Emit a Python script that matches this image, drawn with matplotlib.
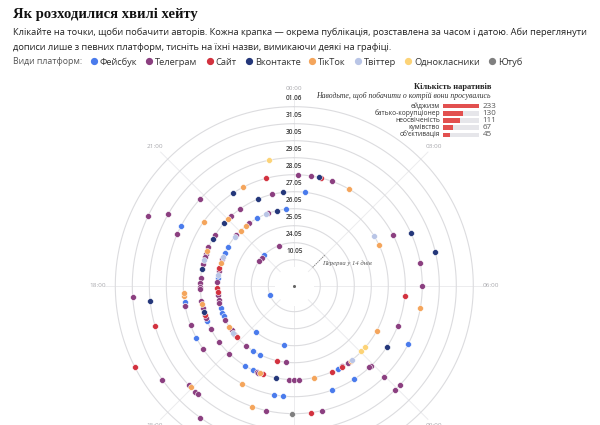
import numpy as np
import matplotlib
matplotlib.use('Agg')
import matplotlib.pyplot as plt
from matplotlib.lines import Line2D

# ~~~~~~~~~~~~~~~~~~~~~~~~~~~~~~~~~~~~~~~~ Data ~~~~~~~~~~~~~~~~~~~~~~~~~~~~~~~~~~~~~~~~
# ring labels (dates), inner to outer
dates = ['10.05', '24.05', '25.05', '26.05', '27.05', '28.05', '29.05', '30.05', '31.05', '01.06']
hour_labels = ['00:00', '03:00', '06:00', '09:00', '12:00', '15:00', '18:00', '21:00']

platforms = ['Фейсбук', 'Телеграм', 'Сайт', 'Вконтакте', 'ТікТок', 'Твіттер', 'Однокласники', 'Ютуб']
platform_colors = ['#4a7bec', '#8b3f80', '#d2323f', '#24377a', '#f4a55c', '#b9c5e6', '#fcd377', '#7f7f7f']

# posts per platform: (date, hour of day)
facebook = [('10.05', 16.6), ('24.05', 21.07), ('25.05', 14.64), ('25.05', 12.68),
            ('26.05', 23.6), ('26.05', 22.07), ('26.05', 20.03), ('26.05', 19.67), ('26.05', 18.36),
            ('26.05', 16.87), ('26.05', 16.6), ('26.05', 16.43), ('26.05', 14.14), ('26.05', 13.75),
            ('27.05', 0.43), ('27.05', 16.55), ('27.05', 14.09), ('27.05', 13.73), ('27.05', 10.15),
            ('28.05', 17.43), ('28.05', 17.31), ('28.05', 16.13), ('28.05', 12.69), ('28.05', 12.39),
            ('28.05', 9.82), ('28.05', 10.67), ('29.05', 19.87), ('29.05', 7.8)]
telegram = [('24.05', 22.6), ('24.05', 20.73), ('24.05', 20.3),
            ('26.05', 22.67), ('26.05', 21.6), ('26.05', 20.75), ('26.05', 19.33), ('26.05', 18.75),
            ('26.05', 18.2), ('26.05', 17.54), ('26.05', 17.29), ('26.05', 17.13), ('26.05', 16.26),
            ('26.05', 15.64), ('26.05', 15.4), ('26.05', 14.58), ('26.05', 12.43),
            ('27.05', 23.07), ('27.05', 21.67), ('27.05', 21.17), ('27.05', 20.17), ('27.05', 19.6),
            ('27.05', 19.31), ('27.05', 19.17), ('27.05', 18.91), ('27.05', 18.3), ('27.05', 18.1),
            ('27.05', 17.93), ('27.05', 17.85), ('27.05', 17.39), ('27.05', 17.1), ('27.05', 16.65),
            ('27.05', 16.17), ('27.05', 15.53), ('27.05', 14.91), ('27.05', 13.58), ('27.05', 13.5),
            ('27.05', 12.2), ('27.05', 12.0), ('27.05', 11.82), ('27.05', 9.95), ('27.05', 9.7),
            ('28.05', 0.14), ('28.05', 0.56), ('28.05', 1.31), ('28.05', 4.2), ('28.05', 7.43),
            ('28.05', 9.1), ('28.05', 9.16), ('28.05', 17.28), ('28.05', 16.6), ('28.05', 15.67),
            ('29.05', 20.85), ('29.05', 19.6), ('29.05', 5.32), ('29.05', 6.02), ('29.05', 9.02),
            ('29.05', 11.18), ('29.05', 12.84),
            ('30.05', 19.97), ('30.05', 8.87), ('30.05', 9.05), ('30.05', 15.12), ('30.05', 14.87),
            ('30.05', 14.78),
            ('31.05', 19.69), ('31.05', 17.74), ('31.05', 15.63), ('31.05', 14.36)]
site = [('26.05', 18.91), ('26.05', 17.87), ('26.05', 17.7), ('26.05', 15.2), ('26.05', 12.85),
        ('27.05', 16.77), ('27.05', 13.3), ('27.05', 10.43), ('27.05', 9.97),
        ('28.05', 0.93), ('28.05', 23.0), ('28.05', 6.35), ('29.05', 11.5), ('30.05', 16.93),
        ('01.06', 16.21)]
vkontakte = [('26.05', 23.13), ('27.05', 23.54), ('27.05', 22.49), ('27.05', 20.8), ('27.05', 19.99),
             ('27.05', 18.67), ('27.05', 16.91), ('27.05', 12.73), ('28.05', 0.85), ('28.05', 21.75),
             ('28.05', 8.23), ('29.05', 4.39), ('30.05', 5.11), ('30.05', 17.6)]
tiktok = [('26.05', 21.41), ('26.05', 21.05), ('26.05', 19.12), ('26.05', 15.83),
          ('27.05', 21.01), ('27.05', 19.44), ('27.05', 17.24), ('27.05', 13.43), ('27.05', 11.19),
          ('27.05', 9.55), ('27.05', 7.91), ('27.05', 4.29),
          ('28.05', 1.97), ('28.05', 22.17), ('28.05', 20.35), ('28.05', 17.65), ('28.05', 17.76),
          ('28.05', 13.87), ('29.05', 6.68), ('29.05', 13.28), ('30.05', 15.04)]
twitter = [('26.05', 22.55), ('26.05', 20.64), ('26.05', 19.47), ('26.05', 18.53), ('26.05', 15.5),
           ('27.05', 19.05), ('27.05', 9.45), ('27.05', 3.85)]
odnoklassniki = [('27.05', 8.96), ('27.05', 8.73), ('29.05', 23.24)]
youtube = [('29.05', 12.07)]
posts = [facebook, telegram, site, vkontakte, tiktok, twitter, odnoklassniki, youtube]

# narratives inset
narratives = ['ейджизм', 'батько-корупціонер', 'неосвіченість', 'кумівство', 'об\u2019єктивація']
narrative_counts = [233, 130, 111, 67, 45]

# ~~~~~~~~~~~~~~~~~~~~~~~~~~~~~~~~~~~~~~~ Figure ~~~~~~~~~~~~~~~~~~~~~~~~~~~~~~~~~~~~~~~
W, H = 600, 425
fig = plt.figure(figsize=(6, 4.25), dpi=100)
fig.patch.set_facecolor('white')
SANS = ['Open Sans', 'DejaVu Sans']
SERIF = ['Liberation Serif', 'DejaVu Serif']
TXT = 6.65


def fx(px):
    return px / W


def fy(py):
    return 1 - py / H


# header
fig.text(fx(13), fy(14), 'Як розходилися хвилі хейту', family=SERIF, fontweight='bold',
         fontsize=10.5, color='#111111', va='center', ha='left')
fig.text(fx(13), fy(32), 'Клікайте на точки, щоби побачити авторів. Кожна крапка \u2014 окрема публікація, '
         'розставлена за часом і датою. Аби переглянути', family=SANS, fontsize=TXT, color='#222222',
         va='center', ha='left')
fig.text(fx(13), fy(47), 'дописи лише з певних платформ, тисніть на їхні назви, вимикаючи деякі на графіці.',
         family=SANS, fontsize=TXT, color='#222222', va='center', ha='left')

# legend
fig.text(fx(13), fy(62), 'Види платформ:', family=SANS, fontsize=TXT - 0.3, color='#555555',
         va='center', ha='left')
handles = [Line2D([], [], marker='o', ls='', color=c, markersize=4.2) for c in platform_colors]
fig.legend(handles, platforms, loc='center left', bbox_to_anchor=(fx(91), fy(62)), ncol=8, frameon=False,
           prop={'family': SANS, 'size': TXT}, handlelength=0.6, handletextpad=0.35, columnspacing=1.0,
           borderpad=0, borderaxespad=0, labelcolor='#333333')

# ~~~~~~~~~~~~~~~~~~~~~~~~~~~~~~~~~~~ Radial chart ~~~~~~~~~~~~~~~~~~~~~~~~~~~~~~~~~~~~~~
cx, cy, R = 294.3, 285.7, 200
ax = fig.add_axes([fx(cx - R), fy(cy + R), 2 * R / W, 2 * R / H], projection='polar')
ax.set_theta_zero_location('N')
ax.set_theta_direction(-1)
ax.set_ylim(0, R)
ax.set_axis_off()

ring_r = {d: 26 + 17 * i for i, d in enumerate(dates)}
circle = np.linspace(0, 2 * np.pi, 400)

# rings + date labels
for d in dates:
    ax.plot(circle, np.full_like(circle, ring_r[d]), color='#dcdcdf', lw=0.8, zorder=1)
    ax.text(0, ring_r[d] + 8.5, d, ha='center', va='center', fontsize=4.7, color='#3a3a3a',
            family=SANS, fontweight='semibold', zorder=2)

# hour spokes + labels (12:00 falls below the visible area)
for k, lab in enumerate(hour_labels):
    th = np.deg2rad(k * 45)
    ax.plot([th, th], [20, 189], color='#ececee', lw=0.7, zorder=0)
    if lab != '12:00':
        ax.text(th, 197, lab, ha='center', va='center', fontsize=4.6, color='#a8a8ad', family=SANS)

# gap marker between 10.05 and 24.05
ax.plot([np.deg2rad(45)] * 2, [ring_r['10.05'], ring_r['24.05']], color='#777777', lw=0.6,
        ls=(0, (1.5, 1.2)), zorder=2)
ax.text(np.deg2rad(51), 36, 'Перерва у 14 днів', ha='left', va='center', fontsize=4.8,
        family=SERIF, style='italic', color='#555555')

# posts
for plist, col in zip(posts, platform_colors):
    th = np.deg2rad([h * 15 for _, h in plist])
    rr = [ring_r[d] for d, _ in plist]
    ax.scatter(th, rr, s=18, color=col, edgecolors='white', linewidths=0.4, zorder=3)
ax.scatter([0], [0], s=1.5, color='#666666', zorder=3)

# ~~~~~~~~~~~~~~~~~~~~~~~~~~~~~~~~~~ Narratives inset ~~~~~~~~~~~~~~~~~~~~~~~~~~~~~~~~~~~
fig.text(fx(491), fy(87), 'Кількість наративів', family=SERIF, fontweight='bold', fontsize=6,
         color='#222222', ha='right', va='center')
fig.text(fx(491), fy(95.5), 'Наводьте, щоб побачити о котрій вони просувались', family=SERIF,
         style='italic', fontsize=5.6, color='#333333', ha='right', va='center')

bx = fig.add_axes([fx(442.7), fy(138.5), 36.3 / W, 36 / H])
ypos = np.arange(len(narratives))
bx.barh(ypos, [max(narrative_counts)] * len(narratives), height=0.62, color='#e6e6ea')
bx.barh(ypos, narrative_counts, height=0.62, color='#e2504f')
bx.set_xlim(0, max(narrative_counts))
bx.set_ylim(len(narratives) - 0.5, -0.5)
bx.set_axis_off()
for i, (name, cnt) in enumerate(zip(narratives, narrative_counts)):
    bx.text(-0.07, i, name, transform=bx.get_yaxis_transform(), ha='right', va='center',
            fontsize=4.8, family=SANS, color='#333333')
    bx.text(1.1, i, str(cnt), transform=bx.get_yaxis_transform(), ha='left', va='center',
            fontsize=5.8, family=SANS, color='#555555')

fig.savefig('out.png', dpi=100)
